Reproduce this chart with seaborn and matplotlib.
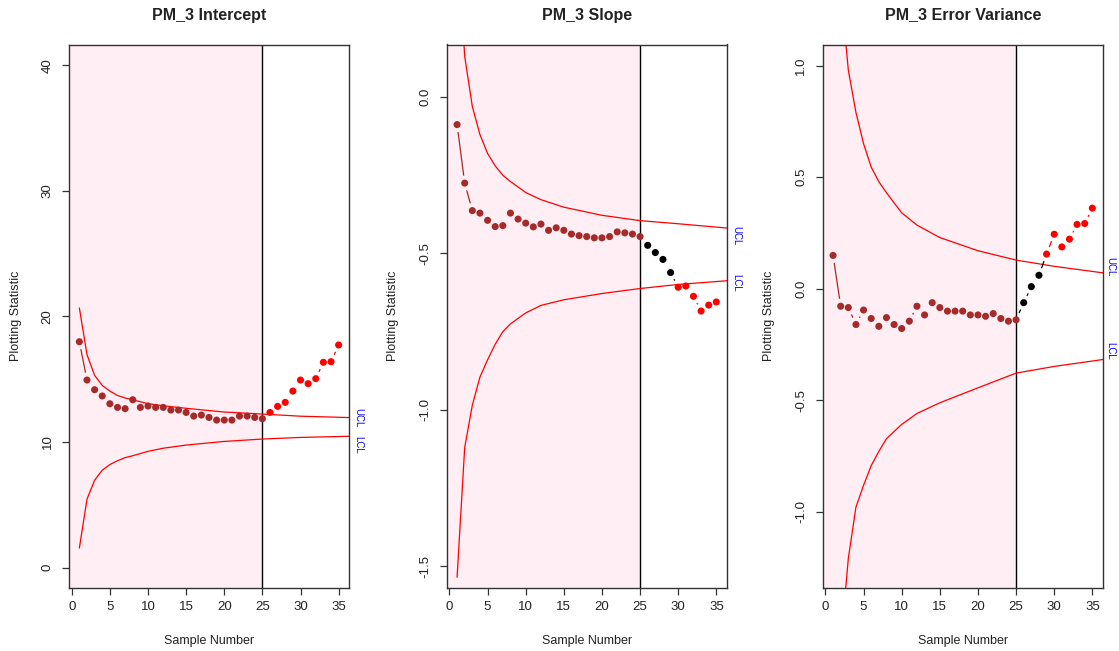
import numpy as np
import pandas as pd
import matplotlib
matplotlib.use("Agg")
import matplotlib.pyplot as plt
import seaborn as sns

# ---------------- data ----------------
samples = list(range(1, 36))
limit_x = [1, 2, 3, 4, 5, 6, 7, 8, 10, 12, 15, 20, 25, 30, 37]
phase1_end = 25

intercept_stat = [17.98, 14.93, 14.16, 13.66, 13.04, 12.75, 12.65, 13.36, 12.75, 12.86,
                  12.75, 12.75, 12.54, 12.54, 12.35, 12.06, 12.14, 11.95, 11.74, 11.74,
                  11.74, 12.06, 12.06, 11.95, 11.85, 12.35, 12.83, 13.15, 14.05, 14.93,
                  14.64, 15.04, 16.34, 16.39, 17.72]
intercept_ucl = [20.67, 16.95, 15.3, 14.5, 14.05, 13.7, 13.5, 13.35, 13.05, 12.88,
                 12.68, 12.38, 12.22, 12.05, 11.93]
intercept_lcl = [1.55, 5.45, 6.95, 7.75, 8.2, 8.5, 8.75, 8.9, 9.25, 9.5,
                 9.75, 10.04, 10.23, 10.36, 10.46]
intercept_status = ["phase1"] * 25 + ["alarm"] * 10

slope_stat = [-0.088, -0.275, -0.363, -0.371, -0.394, -0.414, -0.411, -0.371, -0.390, -0.403,
              -0.415, -0.406, -0.426, -0.418, -0.426, -0.438, -0.443, -0.446, -0.450, -0.450,
              -0.446, -0.431, -0.434, -0.438, -0.446, -0.474, -0.497, -0.519, -0.561, -0.608,
              -0.604, -0.637, -0.684, -0.665, -0.655]
slope_ucl = [0.53, 0.13, -0.03, -0.12, -0.18, -0.22, -0.25, -0.27, -0.305, -0.328,
             -0.352, -0.378, -0.395, -0.405, -0.42]
slope_lcl = [-1.535, -1.12, -0.985, -0.895, -0.84, -0.79, -0.75, -0.725, -0.69, -0.666,
             -0.648, -0.628, -0.612, -0.599, -0.586]
slope_status = ["phase1"] * 25 + ["signal"] * 4 + ["alarm"] * 6

errvar_stat = [0.149, -0.079, -0.085, -0.161, -0.096, -0.134, -0.169, -0.130, -0.161, -0.179,
               -0.146, -0.079, -0.118, -0.063, -0.085, -0.101, -0.101, -0.101, -0.118, -0.118,
               -0.124, -0.112, -0.134, -0.146, -0.140, -0.063, 0.009, 0.060, 0.155, 0.244,
               0.187, 0.222, 0.288, 0.292, 0.361]
errvar_ucl = [2.28, 1.35, 0.98, 0.79, 0.65, 0.545, 0.48, 0.43, 0.34, 0.285,
              0.229, 0.17, 0.128, 0.10, 0.068]
errvar_lcl = [-2.53, -1.6, -1.21, -0.98, -0.882, -0.794, -0.73, -0.673, -0.609, -0.56,
              -0.512, -0.445, -0.379, -0.349, -0.315]
errvar_status = ["phase1"] * 25 + ["signal"] * 3 + ["alarm"] * 7

titles = ["PM_3 Intercept", "PM_3 Slope", "PM_3 Error Variance"]
x_ticks = [0, 5, 10, 15, 20, 25, 30, 35]
y_ticks = [[0, 10, 20, 30, 40], [-1.5, -1.0, -0.5, 0.0], [-1.0, -0.5, 0.0, 0.5, 1.0]]
y_limits = [(-1.6, 41.65), (-1.568, 0.168), (-1.341, 1.095)]
label_y = [(11.95, 9.78), (-0.444, -0.595), (0.10, -0.28)]

# ---------------- style ----------------
sns.set_style("white")
plt.rcParams["font.family"] = ["Liberation Sans", "DejaVu Sans"]

palette = {"phase1": "#A52A2A", "signal": "black", "alarm": "red"}
shade = "#FFEEF3"
W, H = 1119, 651
box_w, box_h = 280, 543.1
box_bottom = 651 - 587.6
lefts = [69, 446.7, 822.7]
label_offsets = [9.5, 9.5, 8.0]

fig = plt.figure(figsize=(W / 100, H / 100), dpi=100)


def seg_color(a, b):
    if "signal" in (a, b):
        return palette["signal"]
    if "alarm" in (a, b):
        return palette["alarm"]
    return palette["phase1"]


def draw_b_lines(ax, xs, ys, status, gap_px=7.5):
    pts = ax.transData.transform(np.column_stack([xs, ys]))
    inv = ax.transData.inverted()
    for i in range(len(xs) - 1):
        p0, p1 = pts[i], pts[i + 1]
        d = p1 - p0
        L = np.hypot(d[0], d[1])
        if L <= 2 * gap_px + 1:
            continue
        u = d / L
        a = inv.transform(p0 + u * gap_px)
        b = inv.transform(p1 - u * gap_px)
        ax.plot([a[0], b[0]], [a[1], b[1]], color=seg_color(status[i], status[i + 1]),
                lw=0.9, zorder=2, solid_capstyle="butt")


panels = [
    (intercept_stat, intercept_ucl, intercept_lcl, intercept_status),
    (slope_stat, slope_ucl, slope_lcl, slope_status),
    (errvar_stat, errvar_ucl, errvar_lcl, errvar_status),
]

for k, (stat, ucl, lcl, status) in enumerate(panels):
    ax = fig.add_axes([lefts[k] / W, box_bottom / H, box_w / W, box_h / H])
    ax.set_xlim(-0.36, 36.36)
    ax.set_ylim(*y_limits[k])

    ax.axvspan(ax.get_xlim()[0], phase1_end, color=shade, lw=0, zorder=0)
    ax.axvline(phase1_end, color="black", lw=1.0, zorder=1)

    sns.lineplot(x=limit_x, y=ucl, color="red", lw=0.9, ax=ax, sort=False,
                 estimator=None, zorder=1.5)
    sns.lineplot(x=limit_x, y=lcl, color="red", lw=0.9, ax=ax, sort=False,
                 estimator=None, zorder=1.5)

    df = pd.DataFrame({"x": samples, "y": stat, "status": status})
    draw_b_lines(ax, samples, stat, status)
    sns.scatterplot(data=df, x="x", y="y", hue="status", palette=palette, s=26,
                    linewidth=0, legend=False, ax=ax, zorder=3)

    ax.set_xticks(x_ticks)
    ax.set_yticks(y_ticks[k])
    ax.set_yticklabels([f"{v:g}" if k == 0 else f"{v:.1f}" for v in y_ticks[k]],
                       rotation=90, va="center")
    ax.tick_params(axis="both", direction="out", length=5, width=0.9, color="#333333",
                   labelsize=9.5, labelcolor="#222222", bottom=True, left=True)
    ax.tick_params(axis="x", pad=5)
    ax.tick_params(axis="y", pad=6)
    for sp in ax.spines.values():
        sp.set_color("#333333")
        sp.set_linewidth(1.0)

    ax.set_xlabel("Sample Number", fontsize=9, color="#222222", va="center")
    ax.xaxis.set_label_coords(0.5, -53.5 / box_h)
    ax.set_ylabel("Plotting Statistic", fontsize=9, color="#222222", va="center")
    ax.yaxis.set_label_coords(-53.5 / box_w, 0.5)

    ax.text(0.5, 1 + 29.5 / box_h, titles[k], transform=ax.transAxes, ha="center",
            va="center", fontsize=11.5, fontweight="bold", color="#222222")

    xr = 1 + label_offsets[k] / box_w
    ax.text(xr, label_y[k][0], "UCL", transform=ax.get_yaxis_transform(), rotation=-90,
            ha="center", va="center", fontsize=7, color="blue", clip_on=False)
    ax.text(xr, label_y[k][1], "LCL", transform=ax.get_yaxis_transform(), rotation=-90,
            ha="center", va="center", fontsize=7, color="blue", clip_on=False)

fig.savefig("out.png", dpi=100)
